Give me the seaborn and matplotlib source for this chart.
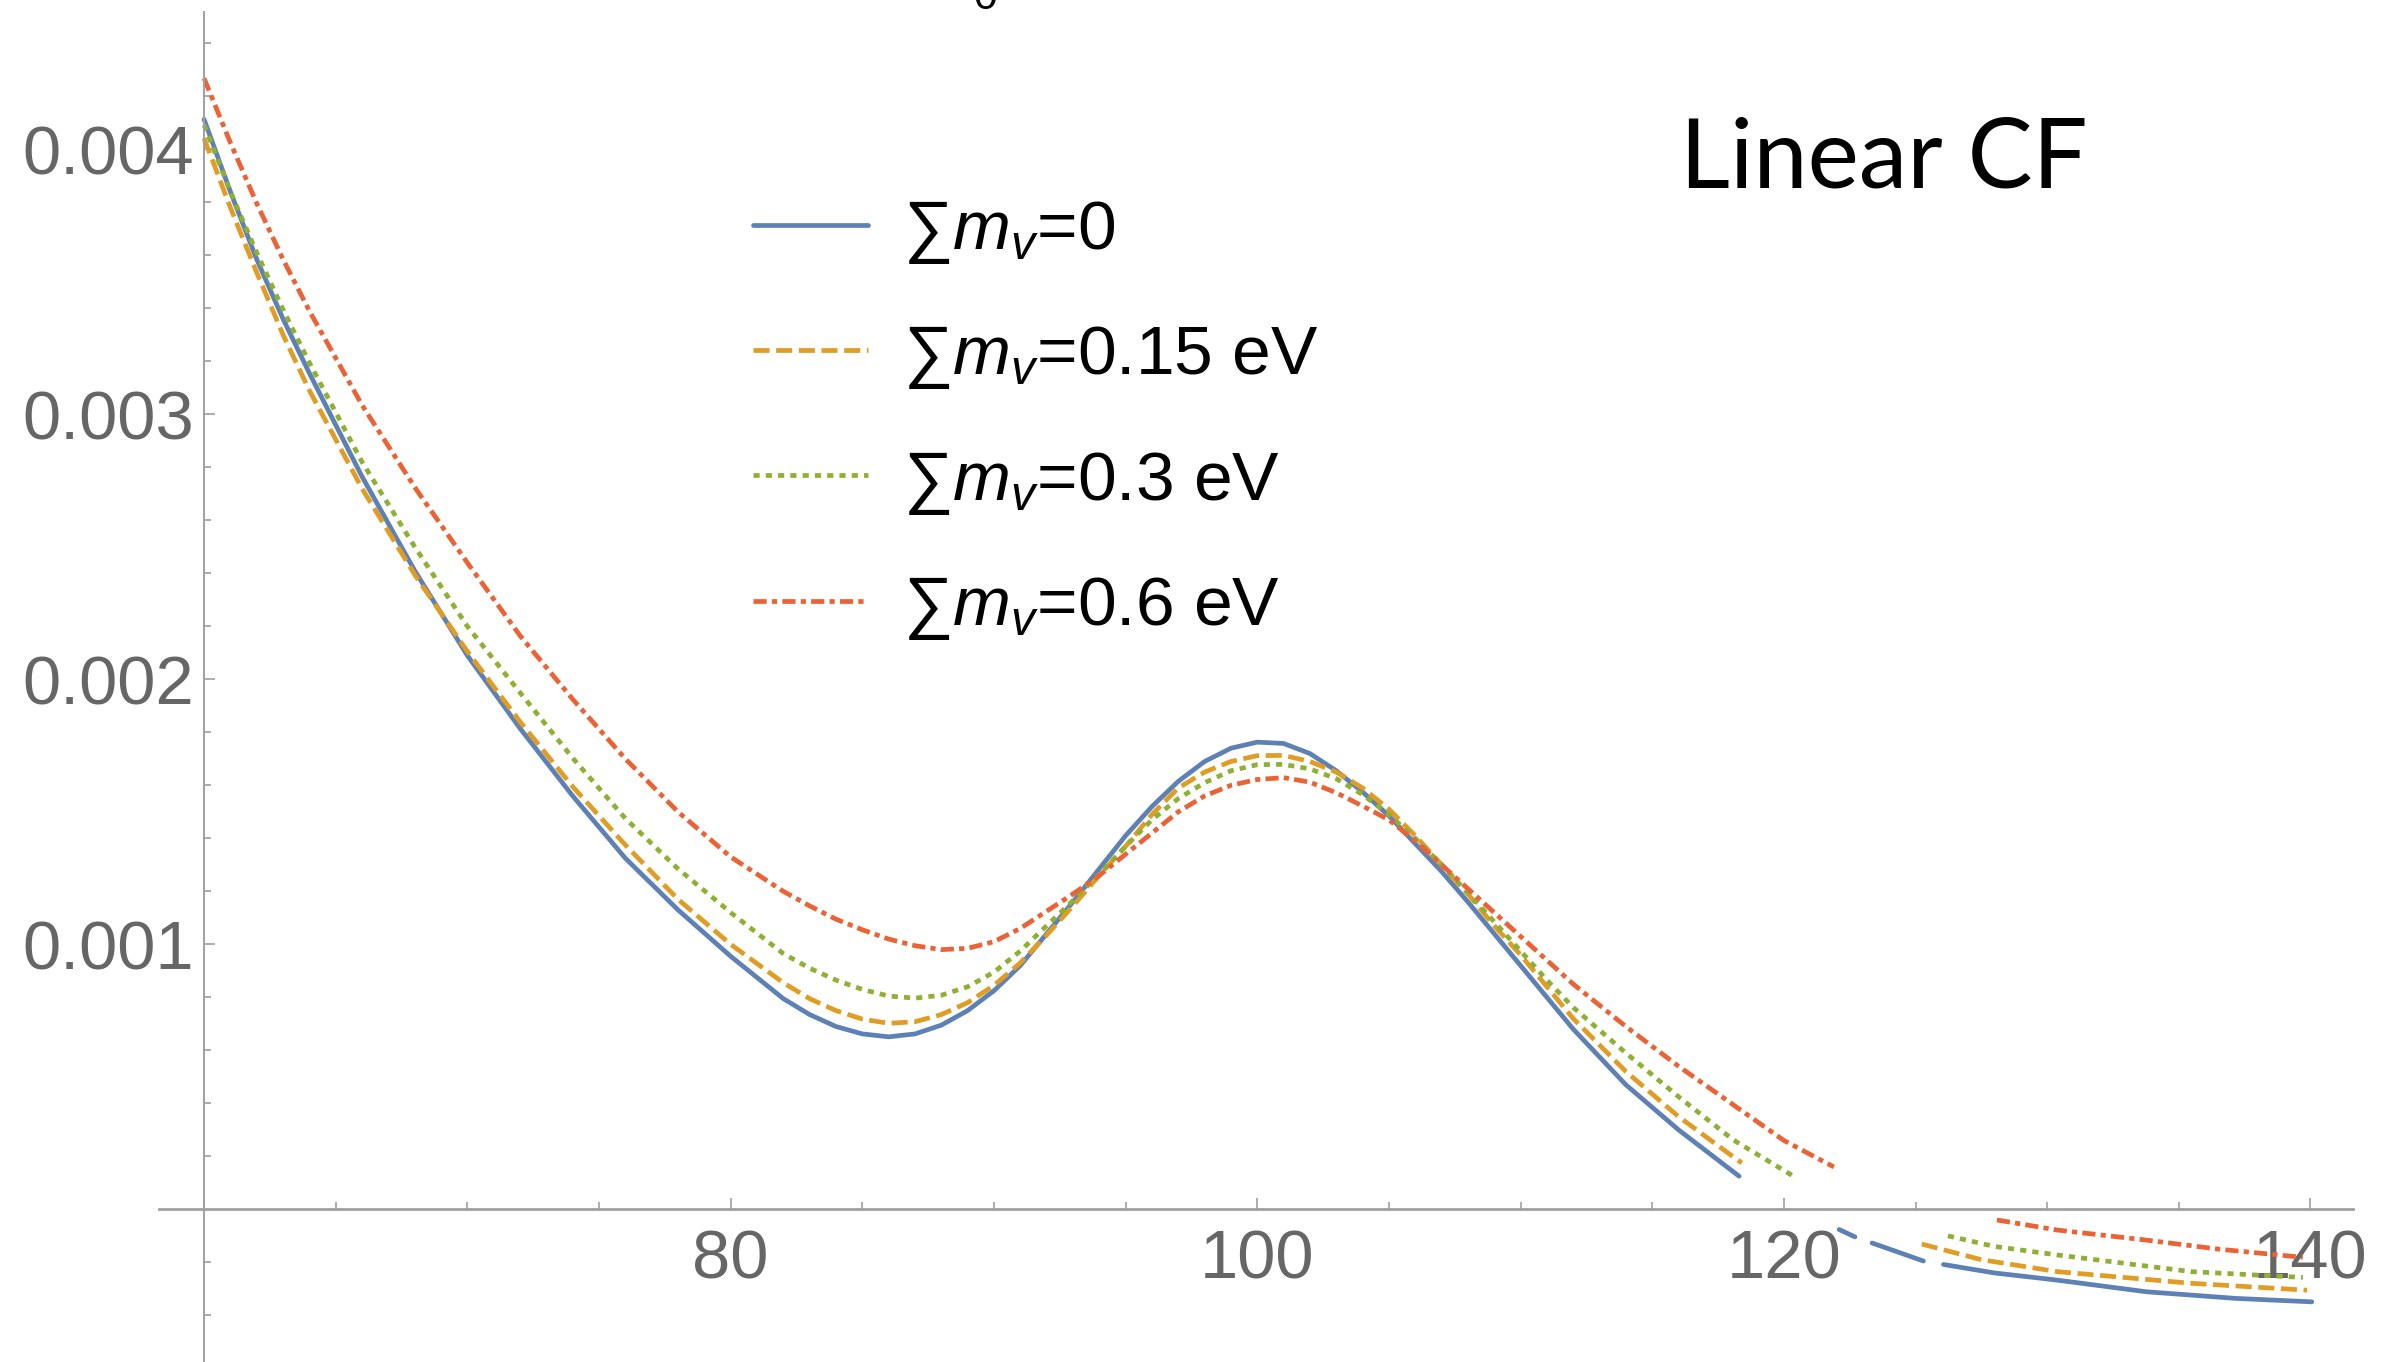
import numpy as np
import pandas as pd
import matplotlib
matplotlib.use("Agg")
import matplotlib.pyplot as plt
from matplotlib.lines import Line2D
from matplotlib.ticker import FixedLocator, NullFormatter
import seaborn as sns

# ---------------- data ----------------
nan = np.nan
labels = ["∑$m_v$=0", "∑$m_v$=0.15 eV", "∑$m_v$=0.3 eV", "∑$m_v$=0.6 eV"]
colors = ["#5E81B5", "#E19C24", "#8FB032", "#EB6235"]

x_grid = [60, 61, 62, 63, 64, 66, 68, 70, 72, 74, 76, 78, 80, 82,
          83, 84, 85, 86, 87, 88, 89, 90, 91, 92, 93, 94, 95, 96, 97, 98,
          99, 100, 101, 102, 103, 104, 105, 106, 107, 108, 109, 110, 111, 112,
          114, 116]

blue_main = [0.004113, 0.00384, 0.003585, 0.00336, 0.003155, 0.002765, 0.00241, 0.00209,
             0.001815, 0.00156, 0.001325, 0.00113, 0.000955, 0.000795,
             0.000735, 0.00069, 0.000662, 0.000651, 0.000662, 0.000695, 0.00075, 0.000825,
             0.00092, 0.00104, 0.00116, 0.001285, 0.00141, 0.00152, 0.001615, 0.00169,
             0.00174, 0.001763, 0.001758, 0.00172, 0.001655, 0.001575, 0.001485, 0.00138,
             0.001275, 0.00116, 0.00104, 0.00092, 0.0008, 0.00068,
             0.00047, 0.0003]
orange_main = [0.004042, 0.00378, 0.003535, 0.0033, 0.00309, 0.00272, 0.002395, 0.002105,
               0.00184, 0.001595, 0.001375, 0.00117, 0.001, 0.000855,
               0.000795, 0.00075, 0.000718, 0.000702, 0.000708, 0.000735, 0.00078, 0.000845,
               0.00093, 0.001035, 0.001145, 0.00126, 0.00137, 0.00149, 0.00159, 0.00165,
               0.00169, 0.001712, 0.001713, 0.00169, 0.00165, 0.00159, 0.00151, 0.00141,
               0.0013, 0.00119, 0.00107, 0.00096, 0.00084, 0.00072,
               0.00052, 0.00035]
green_main = [0.004092, 0.00384, 0.00361, 0.003395, 0.003195, 0.00282, 0.0025, 0.0022,
              0.00195, 0.001703, 0.001475, 0.001285, 0.00112, 0.000965,
              0.00091, 0.000865, 0.00083, 0.000805, 0.000797, 0.000808, 0.00084, 0.000895,
              0.000975, 0.00107, 0.001165, 0.001265, 0.00137, 0.00147, 0.00155, 0.00161,
              0.001655, 0.001678, 0.001679, 0.001662, 0.001625, 0.001565, 0.00149, 0.0014,
              0.0013, 0.001195, 0.001085, 0.000975, 0.000865, 0.000762,
              0.00059, 0.000425]
red_main = [0.004268, 0.004025, 0.003796, 0.003585, 0.00339, 0.003035, 0.002725, 0.00244,
            0.002165, 0.001925, 0.0017, 0.0015, 0.00133, 0.0012,
            0.001145, 0.001095, 0.001055, 0.00102, 0.000995, 0.00098, 0.000985, 0.00101,
            0.00106, 0.001125, 0.00119, 0.00126, 0.00134, 0.00142, 0.0015, 0.00156,
            0.0016, 0.001622, 0.001629, 0.001612, 0.001572, 0.001522, 0.00147, 0.00139,
            0.0013, 0.00121, 0.00112, 0.00103, 0.00094, 0.00085,
            0.00069, 0.00054]

# continuation beyond x=116 (NaN marks a gap in the drawn curve)
blue_tail_x = [118.3, nan, 122.1, 122.7, nan, 123.35, 124.3, 125.3, nan,
               126.06, 128.0, 130.38, 133.77, 137.16, 140.05]
blue_tail_y = [0.000125, nan, -0.000076, -0.000104, nan, -0.000127, -0.00016, -0.000195, nan,
               -0.000208, -0.00024, -0.000267, -0.000311, -0.000336, -0.000349]
orange_tail_x = [117.2, 118.4, nan, 125.24, 127.5, 130.38, 135.47, 139.87]
orange_tail_y = [0.000262, 0.000175, nan, -0.000131, -0.00019, -0.000235, -0.000279, -0.000305]
green_tail_x = [118.08, 120.3, nan, 126.23, 128.0, 130.38, 135.47, 139.71]
green_tail_y = [0.000262, 0.000129, nan, -0.0001, -0.00014, -0.000172, -0.000235, -0.000257]
red_tail_x = [118.0, 120.0, 121.9, nan, 128.09, 130.38, 133.77, 136.5, 139.71]
red_tail_y = [0.0004, 0.00026, 0.00016, nan, -0.00004, -0.000078, -0.000116, -0.00015, -0.000181]

x_ticks_major = [60, 80, 100, 120, 140]
x_tick_labels = ["", "80", "100", "120", "140"]
y_ticks_major = [0.001, 0.002, 0.003, 0.004]
y_tick_labels = ["0.001", "0.002", "0.003", "0.004"]

# ---------------- build tidy frame ----------------
series = [
    (labels[0], x_grid + blue_tail_x, blue_main + blue_tail_y),
    (labels[1], x_grid + orange_tail_x, orange_main + orange_tail_y),
    (labels[2], x_grid + green_tail_x, green_main + green_tail_y),
    (labels[3], x_grid + red_tail_x, red_main + red_tail_y),
]
rows = []
for name, xs, ys in series:
    seg = 0
    for xv, yv in zip(xs, ys):
        if np.isnan(xv) or np.isnan(yv):
            seg += 1
            continue
        rows.append({"series": name, "unit": f"{name}#{seg}", "x": xv, "y": yv})
df = pd.DataFrame(rows)

# ---------------- style ----------------
sns.set_theme(style="white")
plt.rcParams["font.family"] = ["Liberation Sans", "DejaVu Sans"]
plt.rcParams["mathtext.fontset"] = "custom"
plt.rcParams["mathtext.rm"] = "Liberation Sans"
plt.rcParams["mathtext.it"] = "Liberation Sans:italic"
plt.rcParams["mathtext.bf"] = "Liberation Sans:bold"

LW = 3.4
dash_map = {labels[0]: "", labels[1]: (3.4, 1.4), labels[2]: (1.3, 1.3),
            labels[3]: (2.8, 1.1, 1.1, 1.1)}
palette = dict(zip(labels, colors))

fig = plt.figure(figsize=(24, 13.62), dpi=100)
ax = fig.add_axes([0, 0, 1, 1])
ax.set_facecolor("white")

sns.lineplot(data=df, x="x", y="y", hue="series", style="series", units="unit",
             estimator=None, hue_order=labels, style_order=labels,
             palette=palette, dashes=dash_map, linewidth=LW, legend=False, ax=ax)
for ln in ax.get_lines():
    ln.set_solid_joinstyle("round")
    ln.set_dash_joinstyle("round")

ax.set_xlim(52.25, 143.40)
ax.set_ylim(-0.000576, 0.0045634)
ax.set_xlabel("")
ax.set_ylabel("")

# axes crossing at (60, 0), Mathematica style
axis_col = "#a0a0a0"
for s in ["top", "right"]:
    ax.spines[s].set_visible(False)
ax.spines["left"].set_position(("data", 60))
ax.spines["bottom"].set_position(("data", 0))
ax.spines["left"].set_bounds(-0.0006, 0.00452)
ax.spines["bottom"].set_bounds(58.3, 141.6)
ax.spines["left"].set_color(axis_col)
ax.spines["bottom"].set_color(axis_col)
ax.spines["left"].set_linewidth(1.4)
ax.spines["bottom"].set_linewidth(2.0)

ax.xaxis.set_major_locator(FixedLocator(x_ticks_major))
ax.set_xticklabels(x_tick_labels)
ax.xaxis.set_minor_locator(FixedLocator([v for v in np.arange(65, 141, 5) if v % 20 != 0]))
ax.yaxis.set_major_locator(FixedLocator(y_ticks_major))
ax.set_yticklabels(y_tick_labels)
ax.yaxis.set_minor_locator(FixedLocator([round(v, 4) for v in np.arange(-0.0004, 0.00441, 0.0002)
                                         if abs(round(v * 1e4) % 10) != 0]))
ax.yaxis.set_minor_formatter(NullFormatter())
ax.xaxis.set_minor_formatter(NullFormatter())

lab_col = "#666666"
ax.tick_params(axis="both", which="major", direction="in", length=8, width=1.2,
               color=axis_col, labelcolor=lab_col, labelsize=49.5)
ax.tick_params(axis="both", which="minor", direction="in", length=5, width=1.2,
               color=axis_col)
ax.tick_params(axis="x", which="major", pad=14, bottom=True)
ax.tick_params(axis="y", which="major", pad=7, left=True)
ax.tick_params(axis="both", which="minor", bottom=True, left=True)

# legend
handles = []
for lab, col in zip(labels, colors):
    d = dash_map[lab]
    if d == "":
        h = Line2D([0], [0], color=col, lw=LW, linestyle="-")
    else:
        h = Line2D([0], [0], color=col, lw=LW, dashes=d)
    handles.append(h)
leg = ax.legend(handles, labels, loc="upper left", bbox_to_anchor=(0.3138, 0.854),
                bbox_transform=fig.transFigure, frameon=False, fontsize=50,
                handlelength=1.66, handletextpad=0.5, labelspacing=0.84,
                borderpad=0, borderaxespad=0)
for t in leg.get_texts():
    t.set_color("black")

# annotation
fig.text(1680 / 2400, 1 - 187 / 1362, "Linear CF", fontsize=70, family="Lato",
         weight="normal", color="black", ha="left", va="baseline")
# cut-off fragment at the top edge
fig.text(955 / 2400, 1 - 12 / 1362, r"$\int_0$", fontsize=44, color="black",
         ha="left", va="bottom")

fig.savefig("out.png", dpi=100, facecolor="white")
